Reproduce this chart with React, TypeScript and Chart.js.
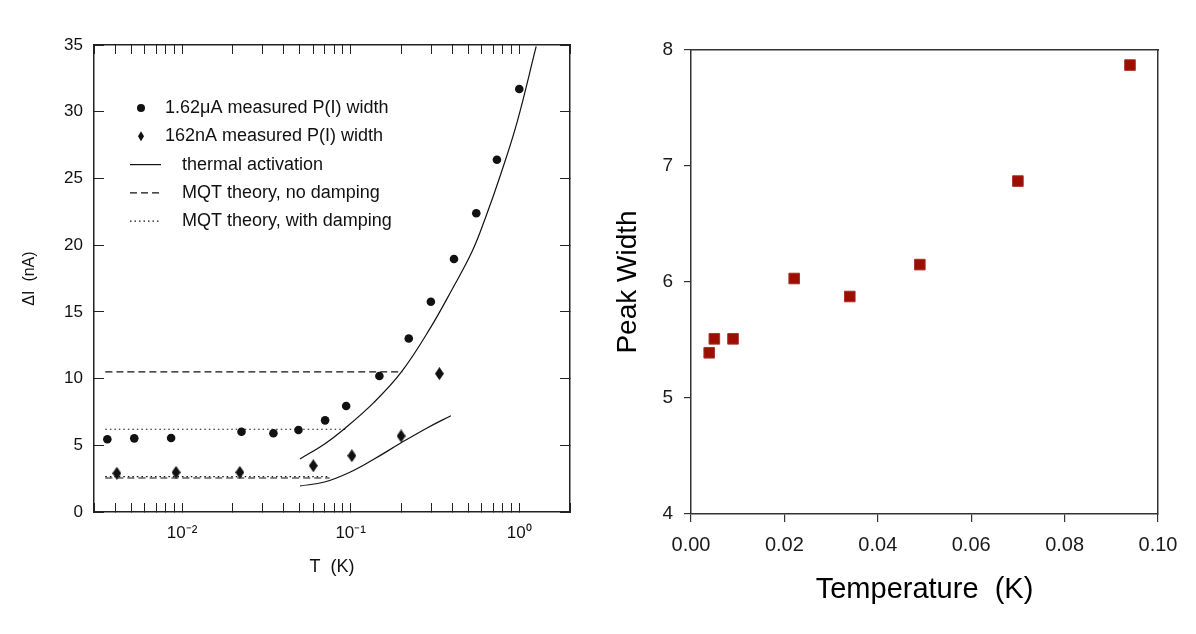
import { useEffect, useRef } from "react";
import { Chart, registerables } from "chart.js";

Chart.register(...registerables);

// ---- left panel: ΔI vs T (log axis) ----
const circleT = [0.0036, 0.0052, 0.0086, 0.0225, 0.0348, 0.049, 0.0705, 0.094, 0.148, 0.221, 0.299, 0.41, 0.556, 0.737, 1.0];
const circleWidth = [5.45, 5.52, 5.55, 6.02, 5.9, 6.15, 6.87, 7.94, 10.19, 13.0, 15.76, 18.96, 22.39, 26.4, 31.7];

const diamondT = [0.0041, 0.0092, 0.022, 0.06, 0.1016, 0.199, 0.336];
const diamondWidth = [2.9, 2.97, 2.97, 3.47, 4.22, 5.7, 10.37];

const thermalHighT = [0.05, 0.07, 0.09, 0.137, 0.2, 0.297, 0.4, 0.524, 0.628, 0.771, 0.97, 1.26];
const thermalHighWidth = [3.97, 5.1, 6.15, 8.2, 10.5, 13.8, 16.7, 19.5, 22.0, 25.2, 29.2, 34.9];

const thermalLowT = [0.05, 0.07, 0.0995, 0.137, 0.197, 0.284, 0.393];
const thermalLowWidth = [1.95, 2.25, 3.0, 3.95, 5.15, 6.3, 7.22];

const mqtNoDampHighT = [0.0035, 0.203];
const mqtNoDampHighWidth = [10.5, 10.5];
const mqtNoDampLowT = [0.0035, 0.075];
const mqtNoDampLowWidth = [2.55, 2.55];

const mqtDampHighT = [0.0035, 0.094];
const mqtDampHighWidth = [6.2, 6.2];
const mqtDampLowT = [0.0035, 0.075];
const mqtDampLowWidth = [2.65, 2.65];

const decadeTicks = [0.01, 0.1, 1];
const decadeLabels = ["10⁻²", "10⁻¹", "10⁰"];

const legendLabels = [
  "1.62μA measured P(I) width",
  "162nA measured P(I) width",
  "thermal activation",
  "MQT theory, no damping",
  "MQT theory, with damping",
];
const legendKinds = ["circle", "diamond", "solid", "dashed", "dotted"];

// ---- right panel: peak width vs temperature ----
const tempK = [0.0039, 0.005, 0.009, 0.0221, 0.034, 0.049, 0.07, 0.094];
const peakWidth = [5.39, 5.51, 5.51, 6.03, 5.875, 6.15, 6.87, 7.87];

const FONT = "'Liberation Sans', Arial, Helvetica, sans-serif";
const INK = "#111";
const DASH = [7, 4];
const DOT = [1.5, 3];

const pts = (xs: number[], ys: number[]) => xs.map((x, i) => ({ x, y: ys[i] }));

function makeDiamond(w: number, h: number, color: string) {
  const c = document.createElement("canvas");
  c.width = w;
  c.height = h;
  const g = c.getContext("2d")!;
  g.fillStyle = color;
  g.beginPath();
  g.moveTo(w / 2, 0);
  g.lineTo(w, h / 2);
  g.lineTo(w / 2, h);
  g.lineTo(0, h / 2);
  g.closePath();
  g.fill();
  return c;
}

const keepWholeLogTicks = (scale: any) => {
  scale.ticks = scale.ticks.filter((t: any) => {
    const m = t.value / Math.pow(10, Math.floor(Math.log10(t.value) + 1e-9));
    return Math.abs(m - Math.round(m)) < 1e-6;
  });
};

const decadeLabel = (value: any) => {
  const i = decadeTicks.findIndex((d) => Math.abs(Math.log10(value) - Math.log10(d)) < 1e-6);
  return i >= 0 ? decadeLabels[i] : "";
};

const insetLegend = {
  id: "insetLegend",
  afterDraw(chart: any) {
    const { ctx, chartArea } = chart;
    const x0 = chartArea.left + 36;
    const y0 = chartArea.top + 63;
    ctx.save();
    ctx.font = `18px ${FONT}`;
    ctx.fillStyle = INK;
    ctx.strokeStyle = INK;
    ctx.textBaseline = "middle";
    legendLabels.forEach((label, i) => {
      const y = y0 + i * 28.3;
      const kind = legendKinds[i];
      if (kind === "circle") {
        ctx.beginPath();
        ctx.arc(x0 + 11, y, 4, 0, Math.PI * 2);
        ctx.fill();
        ctx.fillText(label, x0 + 35, y);
      } else if (kind === "diamond") {
        ctx.beginPath();
        ctx.moveTo(x0 + 11, y - 5);
        ctx.lineTo(x0 + 14, y);
        ctx.lineTo(x0 + 11, y + 5);
        ctx.lineTo(x0 + 8, y);
        ctx.closePath();
        ctx.fill();
        ctx.fillText(label, x0 + 35, y);
      } else {
        ctx.lineWidth = 1.2;
        ctx.setLineDash(kind === "dashed" ? DASH : kind === "dotted" ? DOT : []);
        ctx.beginPath();
        ctx.moveTo(x0, y);
        ctx.lineTo(x0 + 31, y);
        ctx.stroke();
        ctx.setLineDash([]);
        ctx.fillText(label, x0 + 52, y);
      }
    });
    ctx.restore();
  },
};

function LeftChart() {
  const canvasRef = useRef<HTMLCanvasElement>(null);

  useEffect(() => {
    if (!canvasRef.current) return;
    const diamond = makeDiamond(9, 13, INK);
    const curve = (data: any, dash: number[] = []) => ({
      data,
      showLine: true,
      pointRadius: 0,
      borderColor: INK,
      borderWidth: 1.2,
      borderDash: dash,
      tension: 0.4,
    });
    const logGrid = { drawOnChartArea: false, tickLength: -9, color: "#222", lineWidth: 1 };
    const linGrid = { drawOnChartArea: false, tickLength: -10, color: "#222", lineWidth: 1 };
    const frame = { color: "#222", width: 1.5 };

    const chart = new Chart(canvasRef.current, {
      type: "scatter",
      data: {
        datasets: [
          curve(pts(mqtNoDampHighT, mqtNoDampHighWidth), DASH),
          curve(pts(mqtNoDampLowT, mqtNoDampLowWidth), DASH),
          curve(pts(mqtDampHighT, mqtDampHighWidth), DOT),
          curve(pts(mqtDampLowT, mqtDampLowWidth), DOT),
          curve(pts(thermalHighT, thermalHighWidth)),
          curve(pts(thermalLowT, thermalLowWidth)),
          {
            data: pts(circleT, circleWidth),
            pointStyle: "circle",
            pointRadius: 4.3,
            backgroundColor: INK,
            borderWidth: 0,
          },
          {
            data: pts(diamondT, diamondWidth),
            pointStyle: diamond,
            pointRadius: 6,
            backgroundColor: INK,
          },
        ],
      },
      options: {
        responsive: false,
        animation: false,
        events: [],
        layout: { autoPadding: false, padding: { left: 0, top: 41, right: 24, bottom: 0 } },
        plugins: { legend: { display: false }, tooltip: { enabled: false } },
        scales: {
          x: {
            type: "logarithmic",
            position: "bottom",
            min: 0.003,
            max: 2,
            afterBuildTicks: keepWholeLogTicks,
            afterFit: (s: any) => {
              s.height = 122;
            },
            grid: logGrid,
            border: frame,
            ticks: {
              autoSkip: false,
              maxRotation: 0,
              padding: 20,
              callback: decadeLabel,
              color: INK,
              font: { family: FONT, size: 17 },
            },
            title: {
              display: true,
              text: "T  (K)",
              color: INK,
              font: { family: FONT, size: 18 },
              padding: { top: 0, bottom: 56 },
            },
          },
          xTop: {
            type: "logarithmic",
            position: "top",
            min: 0.003,
            max: 2,
            afterBuildTicks: keepWholeLogTicks,
            afterFit: (s: any) => {
              s.height = 4;
            },
            grid: logGrid,
            border: frame,
            ticks: { display: false, autoSkip: false },
          },
          y: {
            type: "linear",
            position: "left",
            min: 0,
            max: 35,
            afterFit: (s: any) => {
              s.width = 94;
            },
            grid: linGrid,
            border: frame,
            ticks: { stepSize: 5, padding: 21, color: INK, font: { family: FONT, size: 17 } },
            title: {
              display: true,
              text: "ΔI  (nA)",
              color: INK,
              font: { family: FONT, size: 16 },
              padding: { top: 20, bottom: 0 },
            },
          },
          yRight: {
            type: "linear",
            position: "right",
            min: 0,
            max: 35,
            afterFit: (s: any) => {
              s.width = 4;
            },
            grid: linGrid,
            border: frame,
            ticks: { stepSize: 5, display: false },
          },
        },
      },
      plugins: [insetLegend],
    });

    return () => chart.destroy();
  }, []);

  return <canvas ref={canvasRef} width={598} height={634} />;
}

function RightChart() {
  const canvasRef = useRef<HTMLCanvasElement>(null);

  useEffect(() => {
    if (!canvasRef.current) return;
    const ink = "#1a1a1a";
    const grid = { drawOnChartArea: false, color: "#333", lineWidth: 1.2 };
    const frame = { color: "#333", width: 1.5 };

    const chart = new Chart(canvasRef.current, {
      type: "scatter",
      data: {
        datasets: [
          {
            data: pts(tempK, peakWidth),
            pointStyle: "rect",
            pointRadius: 7.5,
            backgroundColor: "#9c0d02",
            borderColor: "#a8342a",
            borderWidth: 1,
          },
        ],
      },
      options: {
        responsive: false,
        animation: false,
        events: [],
        layout: { autoPadding: false, padding: { left: 0, top: 48, right: 36, bottom: 0 } },
        plugins: { legend: { display: false }, tooltip: { enabled: false } },
        scales: {
          x: {
            type: "linear",
            position: "bottom",
            min: 0,
            max: 0.1,
            afterFit: (s: any) => {
              s.height = 120;
            },
            grid: { ...grid, tickLength: 8 },
            border: frame,
            ticks: {
              stepSize: 0.02,
              padding: 11,
              maxRotation: 0,
              color: ink,
              font: { family: FONT, size: 20 },
              callback: (v: any) => Number(v).toFixed(2),
            },
            title: {
              display: true,
              text: "Temperature  (K)",
              color: "#000",
              font: { family: FONT, size: 29 },
              padding: { top: 0, bottom: 27 },
            },
          },
          xTop: {
            type: "linear",
            position: "top",
            min: 0,
            max: 0.1,
            afterFit: (s: any) => {
              s.height = 2;
            },
            grid: { display: false },
            border: frame,
            ticks: { display: false },
          },
          y: {
            type: "linear",
            position: "left",
            min: 4,
            max: 8,
            afterFit: (s: any) => {
              s.width = 93;
            },
            grid: { ...grid, tickLength: 7 },
            border: frame,
            ticks: { stepSize: 1, padding: 11, color: ink, font: { family: FONT, size: 19 } },
            title: {
              display: true,
              text: "Peak Width",
              color: "#000",
              font: { family: FONT, size: 28 },
              padding: { top: 13, bottom: 0 },
            },
          },
          yRight: {
            type: "linear",
            position: "right",
            min: 4,
            max: 8,
            afterFit: (s: any) => {
              s.width = 2;
            },
            grid: { display: false },
            border: frame,
            ticks: { display: false },
          },
        },
      },
    });

    return () => chart.destroy();
  }, []);

  return <canvas ref={canvasRef} width={598} height={634} />;
}

export default function App() {
  return (
    <div
      style={{
        position: "absolute",
        left: 0,
        top: 0,
        width: 1196,
        height: 634,
        display: "flex",
        background: "#fff",
      }}
    >
      <LeftChart />
      <RightChart />
    </div>
  );
}
